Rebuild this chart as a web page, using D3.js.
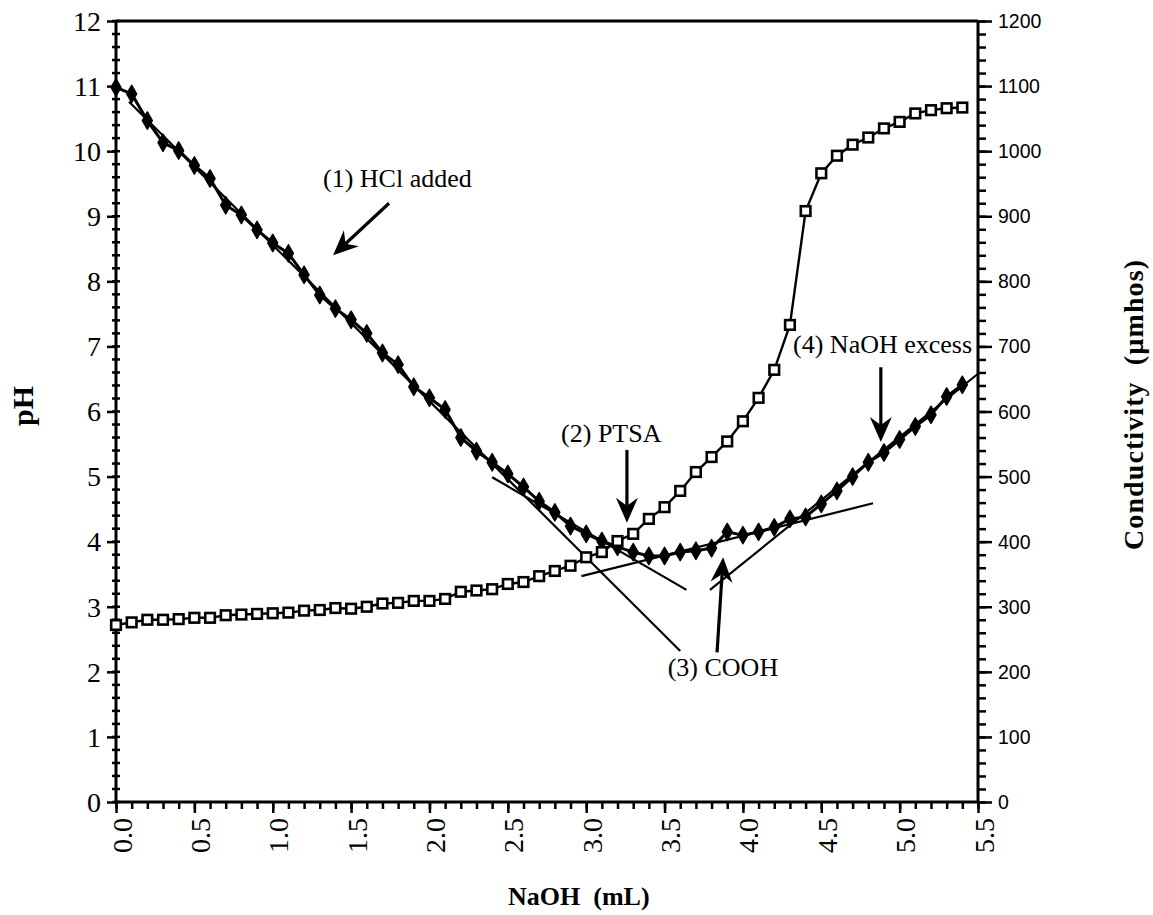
<!DOCTYPE html>
<html>
<head>
<meta charset="utf-8">
<script src="https://cdn.jsdelivr.net/npm/d3@7"></script>
<style>
  html, body { margin: 0; padding: 0; background: #fff; }
  svg { display: block; }
</style>
</head>
<body>
<svg id="chart" width="1153" height="915"></svg>
<script>
// ---------------- DATA ----------------
const naohVolume = [0.0,0.1,0.2,0.3,0.4,0.5,0.6,0.7,0.8,0.9,1.0,1.1,1.2,1.3,1.4,1.5,1.6,1.7,1.8,1.9,2.0,2.1,2.2,2.3,2.4,2.5,2.6,2.7,2.8,2.9,3.0,3.1,3.2,3.3,3.4,3.5,3.6,3.7,3.8,3.9,4.0,4.1,4.2,4.3,4.4,4.5,4.6,4.7,4.8,4.9,5.0,5.1,5.2,5.3,5.4];
const phValues = [10.98,10.88,10.47,10.13,10.01,9.78,9.58,9.17,9.02,8.79,8.59,8.43,8.10,7.79,7.58,7.41,7.20,6.90,6.72,6.38,6.21,6.03,5.60,5.39,5.22,5.04,4.84,4.62,4.45,4.24,4.12,4.01,3.92,3.84,3.78,3.78,3.84,3.86,3.90,4.15,4.10,4.15,4.22,4.35,4.38,4.58,4.78,5.00,5.22,5.37,5.57,5.77,5.95,6.23,6.41];
const conductivityValues = [272,276,280,280,281,283,283,287,288,289,290,291,294,295,298,297,300,305,306,309,309,312,323,325,327,335,338,347,355,363,376,384,401,412,435,453,478,507,530,554,585,621,664,733,908,966,993,1010,1021,1035,1045,1058,1063,1066,1067];

const xTickLabels = ["0.0","0.5","1.0","1.5","2.0","2.5","3.0","3.5","4.0","4.5","5.0","5.5"];
const phTickLabels = ["0","1","2","3","4","5","6","7","8","9","10","11","12"];
const condTickLabels = ["0","100","200","300","400","500","600","700","800","900","1000","1100","1200"];

// tangent (fitted) lines on the pH curve: [x1, pH1, x2, pH2]
const tangentLines = [
  [0.083, 10.76, 3.60, 2.32],
  [2.40, 4.99, 3.64, 3.26],
  [2.97, 3.47, 4.83, 4.59],
  [3.79, 3.26, 5.50, 6.58]
];

// annotations: label, text position (mL, pH), arrow from -> to (mL, pH)
const annotationLabels = ["(1) HCl added", "(2) PTSA", "(3) COOH", "(4) NaOH excess"];
const annotationTextPos = [[1.321, 9.45], [2.84, 5.53], [3.52, 1.94], [4.32, 6.90]];
const annotationArrows = [
  [1.742, 9.20, 1.385, 8.40],
  [3.26, 5.41, 3.26, 4.29],
  [3.835, 2.30, 3.874, 3.76],
  [4.88, 6.68, 4.88, 5.53]
];

// ---------------- LAYOUT ----------------
const svg = d3.select("#chart");
const plotLeft = 116, plotRight = 978, plotTop = 21, plotBottom = 802;

const x = d3.scaleLinear().domain([0, 5.5]).range([plotLeft, plotRight]);
const yPH = d3.scaleLinear().domain([0, 12]).range([plotBottom, plotTop]);
const yC = d3.scaleLinear().domain([0, 1200]).range([plotBottom, plotTop]);

const serif = "'Liberation Serif', 'Times New Roman', Times, serif";
const sans = "'Liberation Sans', Arial, Helvetica, sans-serif";

// ---------------- AXES ----------------
const axisG = svg.append("g").attr("stroke", "#000").attr("fill", "none");

axisG.append("line").attr("x1", plotLeft).attr("x2", plotRight).attr("y1", plotTop).attr("y2", plotTop).attr("stroke-width", 3);
axisG.append("line").attr("x1", plotLeft).attr("x2", plotRight).attr("y1", plotBottom).attr("y2", plotBottom).attr("stroke-width", 3);
axisG.append("line").attr("x1", plotLeft).attr("x2", plotLeft).attr("y1", plotTop).attr("y2", plotBottom).attr("stroke-width", 3);
axisG.append("line").attr("x1", plotRight).attr("x2", plotRight).attr("y1", plotTop).attr("y2", plotBottom).attr("stroke-width", 3);

// x axis ticks (bottom)
const xAxisMajor = d3.axisBottom(x).tickValues(xTickLabels.map(Number)).tickSize(11).tickFormat("");
const xAxisMinor = d3.axisBottom(x).tickValues(d3.range(0, 56).map(i => i / 10)).tickSize(7).tickFormat("");
[xAxisMinor, xAxisMajor].forEach(ax => {
  const g = svg.append("g").attr("transform", `translate(0,${plotBottom})`).call(ax);
  g.select(".domain").remove();
  g.selectAll(".tick line").attr("stroke", "#000").attr("stroke-width", 2.5);
});
svg.append("g").selectAll("text").data(xTickLabels).join("text")
  .attr("transform", d => `translate(${x(+d)},818) rotate(-90)`)
  .attr("text-anchor", "end")
  .attr("dy", 15.5)
  .attr("font-family", serif).attr("font-size", 28).attr("fill", "#000")
  .text(d => d);

// left pH axis
const phMajor = d3.axisLeft(yPH).tickValues(phTickLabels.map(Number)).tickSize(9).tickFormat("");
const gPh = svg.append("g").attr("transform", `translate(${plotLeft},0)`).call(phMajor);
gPh.select(".domain").remove();
gPh.selectAll(".tick line").attr("stroke", "#000").attr("stroke-width", 2.5);
svg.append("g").selectAll("line").data(d3.range(0, 61).map(i => i / 5)).join("line")
  .attr("x1", plotLeft - 4).attr("x2", plotLeft + 4)
  .attr("y1", d => yPH(d)).attr("y2", d => yPH(d))
  .attr("stroke", "#000").attr("stroke-width", 2.5);
svg.append("g").selectAll("text").data(phTickLabels).join("text")
  .attr("x", plotLeft - 15).attr("y", d => yPH(+d)).attr("dy", "0.35em")
  .attr("text-anchor", "end")
  .attr("font-family", serif).attr("font-size", 28).attr("fill", "#000")
  .text(d => d);

// right conductivity axis
const cMajor = d3.axisRight(yC).tickValues(condTickLabels.map(Number)).tickSize(14).tickFormat("");
const cMinor = d3.axisRight(yC).tickValues(d3.range(0, 61).map(i => i * 20)).tickSize(8).tickFormat("");
[cMinor, cMajor].forEach(ax => {
  const g = svg.append("g").attr("transform", `translate(${plotRight},0)`).call(ax);
  g.select(".domain").remove();
  g.selectAll(".tick line").attr("stroke", "#000").attr("stroke-width", 2.5);
});
svg.append("g").selectAll("text").data(condTickLabels).join("text")
  .attr("x", plotRight + 20).attr("y", d => yC(+d)).attr("dy", "0.36em")
  .attr("text-anchor", "start")
  .attr("font-family", sans).attr("font-size", 19.5).attr("fill", "#000")
  .text(d => d);

// axis titles
svg.append("text")
  .attr("transform", `translate(33,406) rotate(-90)`)
  .attr("text-anchor", "middle")
  .attr("font-family", serif).attr("font-weight", "bold").attr("font-size", 30)
  .text("pH");
svg.append("text")
  .attr("x", 508).attr("y", 905)
  .attr("font-family", serif).attr("font-weight", "bold").attr("font-size", 26)
  .attr("xml:space", "preserve")
  .text("NaOH  (mL)");
svg.append("text")
  .attr("transform", `translate(1143,405) rotate(-90)`)
  .attr("text-anchor", "middle")
  .attr("font-family", serif).attr("font-weight", "bold").attr("font-size", 28)
  .attr("xml:space", "preserve")
  .attr("textLength", 290).attr("lengthAdjust", "spacing")
  .text("Conductivity  (\u00B5mhos)");

// ---------------- TANGENT LINES ----------------
svg.append("g").selectAll("line").data(tangentLines).join("line")
  .attr("x1", d => x(d[0])).attr("y1", d => yPH(d[1]))
  .attr("x2", d => x(d[2])).attr("y2", d => yPH(d[3]))
  .attr("stroke", "#000").attr("stroke-width", 2.2);

// ---------------- DATA SERIES ----------------
const phData = naohVolume.map((v, i) => [v, phValues[i]]);
const condData = naohVolume.map((v, i) => [v, conductivityValues[i]]);

svg.append("path").datum(condData)
  .attr("fill", "none").attr("stroke", "#000").attr("stroke-width", 2.4)
  .attr("d", d3.line().x(d => x(d[0])).y(d => yC(d[1])));

svg.append("path").datum(phData)
  .attr("fill", "none").attr("stroke", "#000").attr("stroke-width", 3)
  .attr("d", d3.line().x(d => x(d[0])).y(d => yPH(d[1])));

svg.append("g").selectAll("path").data(phData).join("path")
  .attr("transform", d => `translate(${x(d[0])},${yPH(d[1])})`)
  .attr("d", d3.symbol(d3.symbolDiamond, 85)())
  .attr("fill", "#000").attr("stroke", "#000").attr("stroke-width", 1.5)
  .attr("stroke-linejoin", "round");

svg.append("g").selectAll("rect").data(condData).join("rect")
  .attr("x", d => x(d[0]) - 4.8).attr("y", d => yC(d[1]) - 4.8)
  .attr("width", 9.6).attr("height", 9.6)
  .attr("fill", "#fff").attr("stroke", "#000").attr("stroke-width", 2.6);

// ---------------- ANNOTATIONS ----------------
svg.append("g").selectAll("text").data(annotationLabels).join("text")
  .attr("x", (d, i) => x(annotationTextPos[i][0]))
  .attr("y", (d, i) => yPH(annotationTextPos[i][1]))
  .attr("font-family", serif).attr("font-size", 26).attr("fill", "#000")
  .text(d => d);

const arrowG = svg.append("g");
annotationArrows.forEach(a => {
  const x1 = x(a[0]), y1 = yPH(a[1]), x2 = x(a[2]), y2 = yPH(a[3]);
  const ang = Math.atan2(y2 - y1, x2 - x1);
  const L = 25, W = 11, back = 17;
  const ux = Math.cos(ang), uy = Math.sin(ang);
  const px = -uy, py = ux;
  arrowG.append("line")
    .attr("x1", x1).attr("y1", y1)
    .attr("x2", x2 - ux * back).attr("y2", y2 - uy * back)
    .attr("stroke", "#000").attr("stroke-width", 3.2);
  const p = [
    [x2, y2],
    [x2 - ux * L + px * W, y2 - uy * L + py * W],
    [x2 - ux * back, y2 - uy * back],
    [x2 - ux * L - px * W, y2 - uy * L - py * W]
  ];
  arrowG.append("path")
    .attr("d", "M" + p.map(q => q.join(",")).join("L") + "Z")
    .attr("fill", "#000");
});
</script>
</body>
</html>
